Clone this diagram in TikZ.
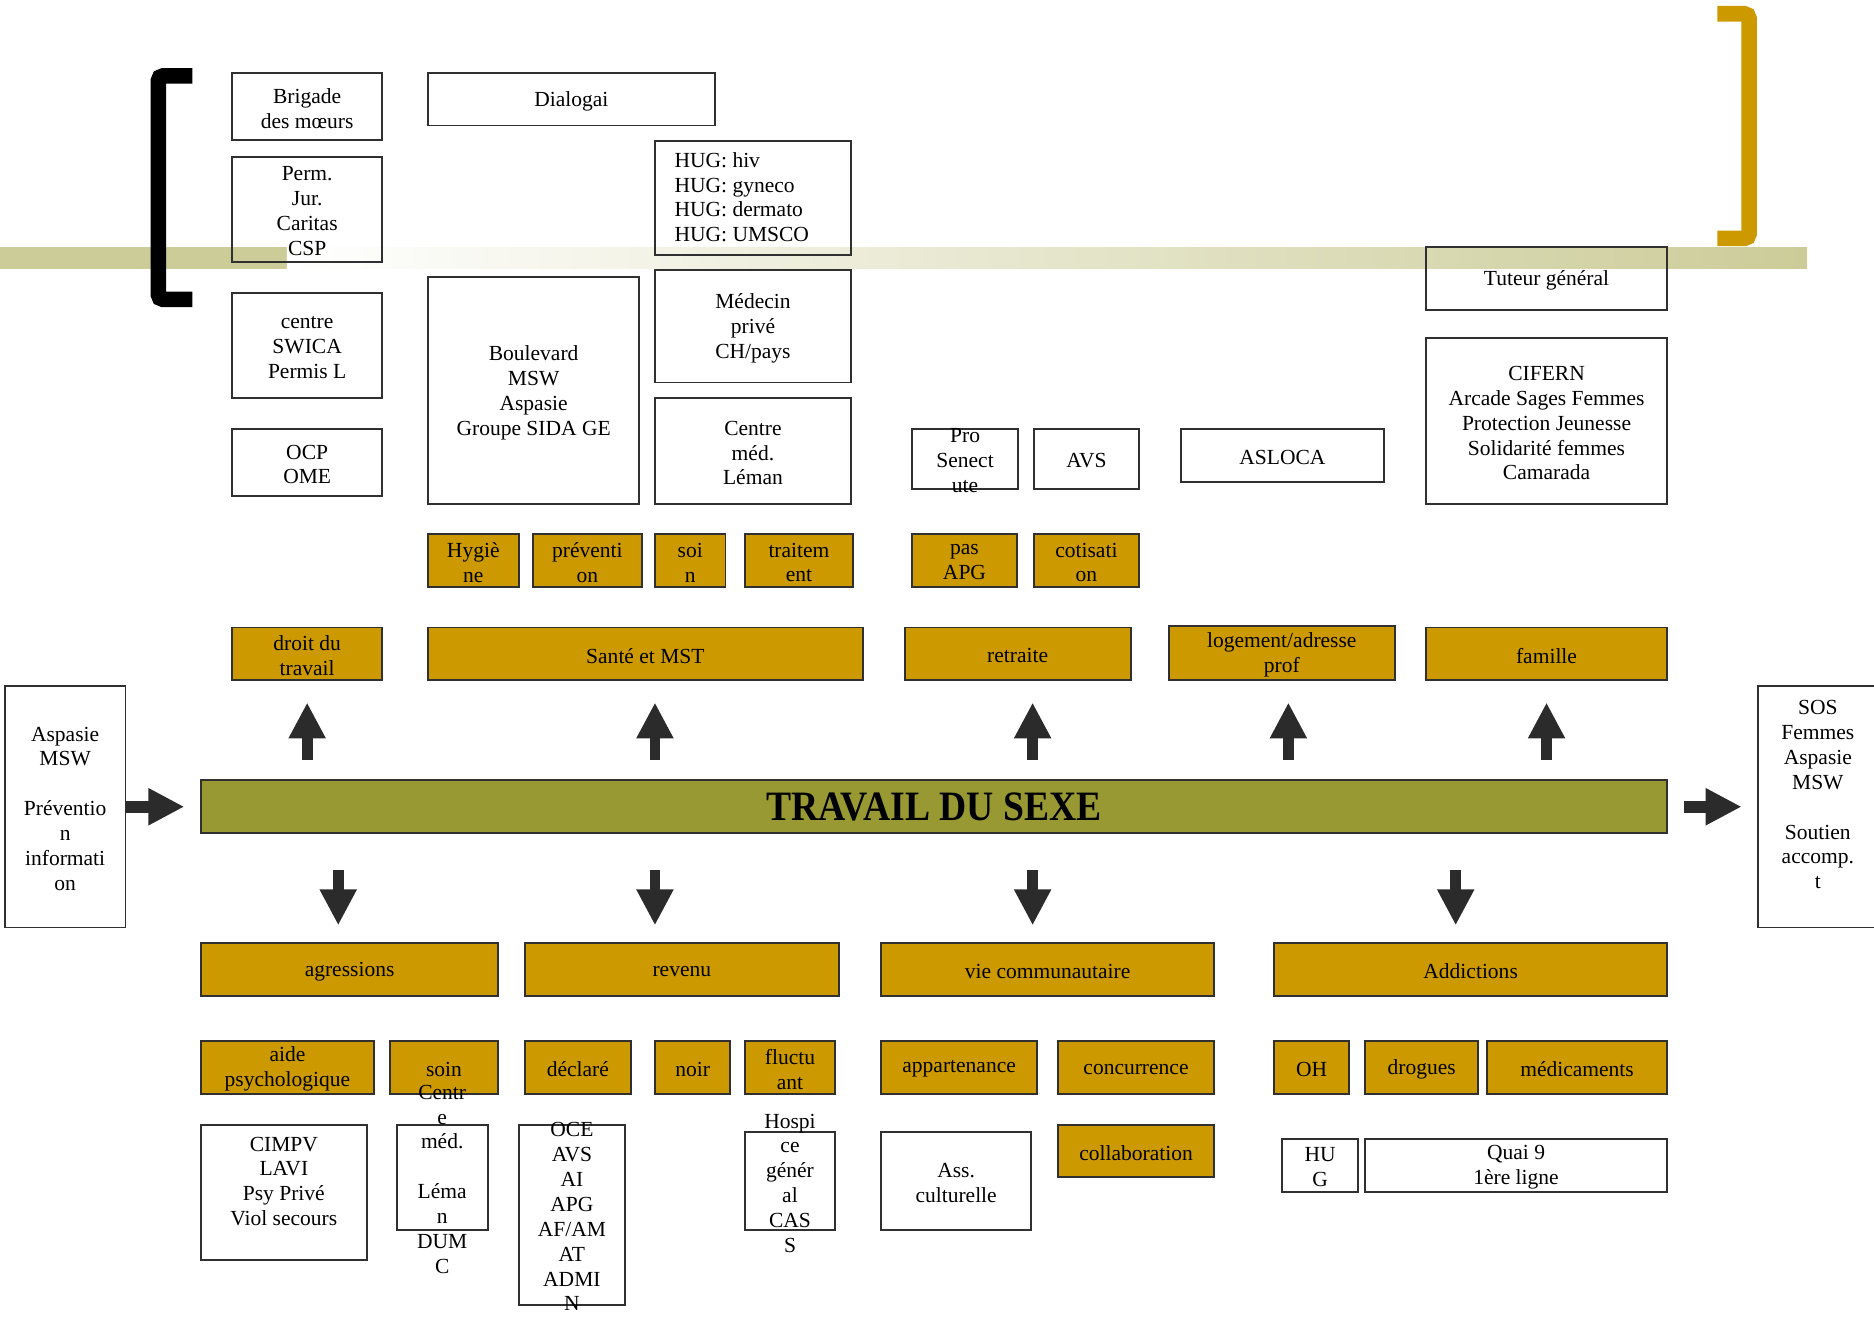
\documentclass[tikz,border=0pt]{standalone}
\usepackage{fontspec}
\setmainfont{Liberation Serif}
\usetikzlibrary{arrows.meta,fit}
\definecolor{gold}{RGB}{204,153,0}
\definecolor{barolive}{RGB}{153,153,51}
\definecolor{bandolive}{RGB}{204,204,153}
\definecolor{boxline}{RGB}{48,48,48}
\definecolor{arrowgray}{RGB}{43,43,43}
\newcommand{\lblfont}{\fontsize{9}{10.4}\selectfont}

\begin{document}
\begin{tikzpicture}[x=0.5pt, y=-0.5pt,
    wbox/.style={draw=boxline, line width=0.8pt, inner sep=0pt},
    gbox/.style={wbox, fill=gold},
    lbl/.style={inner sep=0pt, align=center, font=\lblfont},
    txt/.style={label={[lbl, yshift=-0.8pt]center:{#1}}},
    bigarrow/.style={draw=arrowgray, line width=4.5pt, -{Triangle[length=15pt, width=14.5pt]}}]
  \useasboundingbox (0,0) rectangle (1568,1104);
  % band behind the top boxes
  \fill[bandolive] (0,207) rectangle (240,225);
  \shade[left color=white, right color=bandolive] (240,207) rectangle (1512,225);

  % institutions, top
  \node[wbox, fit={(194,61) (320,117)}, txt={Brigade\\des mœurs}] (brigade) {};
  \node[wbox, fit={(358,61) (598,105)}, txt=Dialogai] (dialogai) {};
  \node[wbox, fit={(194,131) (320,219)}, txt={Perm.\\Jur.\\Caritas\\CSP}] (perm) {};
  \node[wbox, fit={(548,118) (712,213)}] (hug) {};
  \node[lbl, align=left, anchor=west] (hugtxt) at (564,165) {HUG: hiv\\HUG: gyneco\\HUG: dermato\\HUG: UMSCO};
  \node[wbox, fit={(194,245) (320,333)}, txt={centre\\SWICA\\Permis L}] (swica) {};
  \node[wbox, fit={(358,232) (535,422)}, txt={Boulevard\\MSW\\Aspasie\\Groupe SIDA GE}] (boulevard) {};
  \node[wbox, fit={(548,226) (712,320)}, txt={Médecin\\privé\\CH/pays}] (medecin) {};
  \node[wbox, fit={(194,359) (320,415)}, txt={OCP\\OME}] (ocp) {};
  \node[wbox, fit={(548,333) (712,422)}, txt={Centre\\méd.\\Léman}] (leman) {};
  \node[wbox, fit={(763,359) (852,409)}, txt={Pro\\Senect\\ute}] (prosen) {};
  \node[wbox, fit={(865,359) (953,409)}, txt=AVS] (avs) {};
  \node[wbox, fit={(988,359) (1158,403)}, txt=ASLOCA] (asloca) {};
  \node[wbox, fit={(1193,207) (1395,259)}, txt={Tuteur général}] (tuteur) {};
  \node[wbox, fit={(1193,283) (1395,422)}, txt={CIFERN\\Arcade Sages Femmes\\Protection Jeunesse\\Solidarité femmes\\Camarada}] (cifern) {};

  % brackets
  \draw[line width=6.5pt, black, rounded corners=2pt] (161,63.5) -- (132.5,63.5) -- (132.5,250.5) -- (161,250.5);
  \draw[line width=6.5pt, gold, rounded corners=2pt] (1437,11.5) -- (1463.5,11.5) -- (1463.5,199.5) -- (1437,199.5);

  % sub themes, top
  \node[gbox, fit={(358,447) (434,491)}, txt={Hygiè\\ne}] (hygiene) {};
  \node[gbox, fit={(446,447) (537,491)}, txt={préventi\\on}] (prevention) {};
  \node[gbox, fit={(548,447) (607,491)}, txt={soi\\n}] (soin) {};
  \node[gbox, fit={(623,447) (714,491)}, txt={traitem\\ent}] (traitement) {};
  \node[gbox, fit={(763,447) (851,491)}, txt={pas\\APG}] (pasapg) {};
  \node[gbox, fit={(865,447) (953,491)}, txt={cotisati\\on}] (cotisation) {};

  % themes, top
  \node[gbox, fit={(194,525) (320,569)}, txt={droit du\\travail}] (droit) {};
  \node[gbox, fit={(358,525) (722,569)}, txt={Santé et MST}] (sante) {};
  \node[gbox, fit={(757,525) (946,569)}, txt=retraite] (retraite) {};
  \node[gbox, fit={(978,524) (1167,569)}, txt={logement/adresse\\prof}] (logement) {};
  \node[gbox, fit={(1193,525) (1395,569)}, txt=famille] (famille) {};

  % centre
  \node[wbox, fill=barolive, fit={(168,653) (1395,697)}] (bar) {};
  \node[inner sep=0pt] (bartxt) at (bar.center) {\scalebox{0.9}[1]{\fontsize{17.5}{20}\selectfont\bfseries TRAVAIL DU SEXE}};
  \node[wbox, fit={(4,574) (105,776)}, txt={Aspasie\\MSW\\[10.4pt]Préventio\\n\\informati\\on}] (aspasie) {};
  \node[wbox, fit={(1471,574) (1571,776)}] (sos) {};
  \node[lbl] (sostxt) at (1521,665) {SOS\\Femmes\\Aspasie\\MSW\\[10.4pt]Soutien\\accomp.\\t};

  % themes, bottom
  \node[gbox, fit={(168,789) (417,833)}, txt=agressions] (agressions) {};
  \node[gbox, fit={(439,789) (702,833)}, txt=revenu] (revenu) {};
  \node[gbox, fit={(737,789) (1016,833)}, txt={vie communautaire}] (vie) {};
  \node[gbox, fit={(1066,789) (1395,833)}, txt=Addictions] (addictions) {};

  % sub themes, bottom
  \node[gbox, fit={(168,871) (313,915)}, txt={aide\\psychologique}] (aide) {};
  \node[gbox, fit={(326,871) (417,915)}, txt=soin] (soinb) {};
  \node[gbox, fit={(439,871) (528,915)}, txt=déclaré] (declare) {};
  \node[gbox, fit={(548,871) (611,915)}, txt=noir] (noir) {};
  \node[gbox, fit={(623,871) (699,915)}, txt={fluctu\\ant}] (fluctuant) {};
  \node[gbox, fit={(737,871) (868,915)}, txt=appartenance] (appartenance) {};
  \node[gbox, fit={(885,871) (1016,915)}, txt=concurrence] (concurrence) {};
  \node[gbox, fit={(1066,871) (1129,915)}, txt=OH] (oh) {};
  \node[gbox, fit={(1142,871) (1237,915)}, txt=drogues] (drogues) {};
  \node[gbox, fit={(1244,871) (1395,915)}, txt=médicaments] (medicaments) {};

  % institutions, bottom
  \node[wbox, fit={(168,941) (307,1054)}] (cimpv) {};
  \node[lbl] (cimpvtxt) at (237.5,988.5) {CIMPV\\LAVI\\Psy Privé\\Viol secours};
  \node[wbox, fit={(332,941) (408,1029)}, txt={Centr\\e\\méd.\\[10.4pt]Léma\\n\\DUM\\C}] (centremed) {};
  \node[wbox, fit={(434,941) (523,1092)}, txt={OCE\\AVS\\AI\\APG\\AF/AM\\AT\\ADMI\\N}] (oce) {};
  \node[wbox, fit={(623,947) (699,1029)}] (hospice) {};
  \node[lbl] (hospicetxt) at (661,990) {Hospi\\ce\\génér\\al\\CAS\\S};
  \node[wbox, fit={(737,947) (863,1029)}, txt={Ass.\\culturelle}] (asscult) {};
  \node[gbox, fit={(885,941) (1016,985)}, txt=collaboration] (collab) {};
  \node[wbox, fit={(1073,953) (1136,997)}, txt={HU\\G}] (hugb) {};
  \node[wbox, fit={(1142,953) (1395,997)}, txt={Quai 9\\1ère ligne}] (quai) {};

  % arrows
  \draw[bigarrow, shorten <=8pt, shorten >=9pt] (droit.south |- bar.north) -- (droit.south);
  \draw[bigarrow, shorten <=8pt, shorten >=9pt] ([xshift=4pt]sante.south |- bar.north) -- ([xshift=4pt]sante.south);
  \draw[bigarrow, shorten <=8pt, shorten >=9pt] ([xshift=6.25pt]retraite.south |- bar.north) -- ([xshift=6.25pt]retraite.south);
  \draw[bigarrow, shorten <=8pt, shorten >=9pt] ([xshift=2.75pt]logement.south |- bar.north) -- ([xshift=2.75pt]logement.south);
  \draw[bigarrow, shorten <=8pt, shorten >=9pt] (famille.south |- bar.north) -- (famille.south);
  \draw[bigarrow, shorten <=15pt, shorten >=7pt] ([xshift=-4.75pt]agressions.north |- bar.south) -- ([xshift=-4.75pt]agressions.north);
  \draw[bigarrow, shorten <=15pt, shorten >=7pt] ([xshift=-11.25pt]revenu.north |- bar.south) -- ([xshift=-11.25pt]revenu.north);
  \draw[bigarrow, shorten <=15pt, shorten >=7pt] ([xshift=-6.25pt]vie.north |- bar.south) -- ([xshift=-6.25pt]vie.north);
  \draw[bigarrow, shorten <=15pt, shorten >=7pt] ([xshift=-6.25pt]addictions.north |- bar.south) -- ([xshift=-6.25pt]addictions.north);
  \draw[bigarrow, line width=5pt, shorten >=6.5pt] (aspasie.east) -- (bar.west);
  \draw[bigarrow, line width=5pt, shorten <=6.5pt, shorten >=6.5pt] (bar.east) -- (sos.west);
\end{tikzpicture}
\end{document}
